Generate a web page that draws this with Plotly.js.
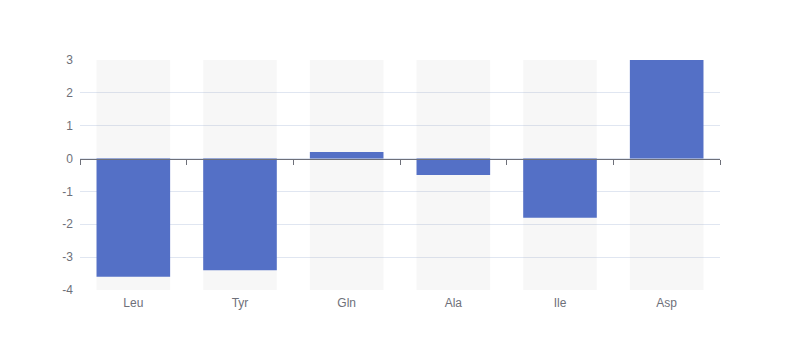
<!DOCTYPE html>
<html>
<head>
<meta charset="utf-8">
<script src="https://cdn.plot.ly/plotly-3.0.1.min.js"></script>
<style>html,body{margin:0;padding:0;background:#fff;}#chart{width:800px;height:360px;}</style>
</head>
<body>
<div id="chart"></div>
<script>
const categories = ['Leu', 'Tyr', 'Gln', 'Ala', 'Ile', 'Asp'];
const values = [-3.6, -3.4, 0.2, -0.5, -1.8, 3.0];
const yMin = -4;
const yMax = 3;
const yTickVals = [-4, -3, -2, -1, 0, 1, 2, 3];
const yTickText = ['-4', '-3', '-2', '-1', '0', '1', '2', '3'];

const bgTrace = {
  type: 'bar',
  x: categories,
  y: categories.map(() => yMax - yMin),
  base: categories.map(() => yMin),
  width: 0.69,
  marker: { color: 'rgba(180,180,180,0.1)' },
  hoverinfo: 'skip',
  xaxis: 'x',
  yaxis: 'y'
};

const mainTrace = {
  type: 'bar',
  x: categories,
  y: values,
  width: 0.69,
  marker: { color: '#5470c6' },
  xaxis: 'x2',
  yaxis: 'y'
};

const font = { family: 'sans-serif', size: 12, color: '#6e7079' };

const layout = {
  width: 800,
  height: 360,
  margin: { l: 80, r: 80, t: 60, b: 70 },
  paper_bgcolor: '#fff',
  plot_bgcolor: '#fff',
  showlegend: false,
  barmode: 'overlay',
  font: font,
  xaxis: {
    type: 'category',
    showline: false,
    showgrid: false,
    zeroline: false,
    ticks: '',
    tickfont: font,
    ticklabelstandoff: 4
  },
  xaxis2: {
    type: 'category',
    overlaying: 'x',
    anchor: 'free',
    position: (0 - yMin) / (yMax - yMin),
    layer: 'above traces',
    showline: true,
    linecolor: '#6e7079',
    linewidth: 1,
    ticks: 'outside',
    tickson: 'boundaries',
    ticklen: 5,
    tickcolor: '#6e7079',
    tickwidth: 1,
    showticklabels: false,
    showgrid: false,
    zeroline: false
  },
  yaxis: {
    range: [yMin, yMax],
    tickmode: 'array',
    tickvals: yTickVals,
    ticktext: yTickText,
    showgrid: true,
    gridcolor: '#e0e6f1',
    gridwidth: 1,
    zeroline: false,
    showline: false,
    ticks: '',
    tickfont: font,
    ticklabelstandoff: 6
  }
};

Plotly.newPlot('chart', [bgTrace, mainTrace], layout, { displayModeBar: false, staticPlot: true });
</script>
</body>
</html>
